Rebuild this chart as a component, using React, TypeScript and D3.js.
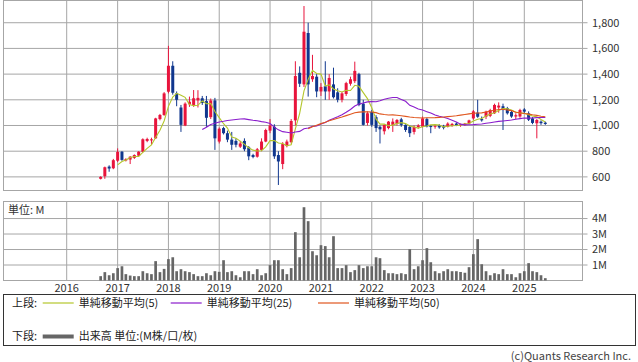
import React from "react";
import * as d3 from "d3";

// Monthly candles, first month = 2016-09
const startMonth = "2016-09-01";
const openP = [585,605,680,667,726,796,728,735,748,765,795,880,885,900,1050,1082,1263,1465,1250,1140,1000,1165,1160,1195,1212,1190,1065,1195,875,980,940,890,880,835,880,830,770,757,810,875,960,990,770,700,840,870,1040,1410,1320,1720,1360,1380,1265,1305,1265,1320,1258,1200,1245,1325,1345,1400,1170,1020,1105,1065,990,955,980,1005,1012,1048,1005,990,950,988,990,1050,996,990,1000,995,990,1000,1015,1005,1005,1015,1055,1100,1050,1068,1075,1095,1140,1150,1135,1105,1070,1070,1125,1095,1055,1017,1030,1022];
const highP = [605,680,690,740,822,800,745,762,775,800,900,905,905,1060,1090,1260,1620,1500,1265,1160,1180,1225,1276,1275,1230,1230,1210,1215,985,990,960,950,900,880,900,840,780,825,900,975,1050,1010,800,870,890,1050,1500,1460,1930,1800,1550,1400,1330,1500,1400,1450,1290,1260,1340,1380,1497,1410,1200,1110,1120,1080,1000,1010,1035,1055,1050,1060,1010,1000,1000,1010,1070,1060,1005,1005,1010,1005,1025,1020,1025,1015,1020,1045,1120,1200,1070,1115,1130,1170,1180,1170,1145,1115,1095,1130,1135,1110,1065,1050,1040,1030];
const lowP = [580,585,640,660,715,725,720,700,740,755,790,870,850,895,1040,1075,1250,1240,1150,950,995,1145,1145,1140,1160,990,1050,810,860,930,870,810,830,825,800,730,745,750,800,870,940,740,537,660,830,860,1000,1300,1300,1225,1340,1220,1230,1200,1200,1210,1180,1180,1230,1310,1330,1150,1000,1000,990,950,860,930,970,950,1000,990,950,910,930,975,985,985,940,975,975,970,985,990,995,990,998,1010,1045,1060,1030,1050,1065,1090,1100,965,1085,1060,1050,1060,1095,1035,1010,900,1005,1005];
const closeP = [600,675,665,730,795,732,738,757,770,796,893,895,892,1055,1082,1250,1465,1255,1200,1005,1170,1185,1212,1215,1175,1060,1195,900,975,940,890,850,850,860,815,760,755,815,875,965,1000,760,720,855,875,1035,1385,1325,1730,1320,1385,1265,1300,1265,1370,1220,1200,1250,1330,1360,1425,1160,1005,1095,1005,980,970,1005,1030,1030,1043,1005,965,940,990,1000,1055,992,988,998,985,983,1015,1012,1003,1010,1015,1040,1110,1068,1040,1108,1120,1160,1155,1120,1095,1070,1080,1120,1108,1045,1020,1043,1018,1012];
// Volume in millions
const volume = [0.28,0.54,0.34,0.47,0.8,0.92,0.41,0.32,0.28,0.28,0.6,0.47,0.41,1.25,0.54,0.75,1.38,1.5,0.6,0.73,0.6,0.54,0.41,0.28,0.28,0.47,0.34,0.6,0.56,1.31,0.54,0.6,0.34,0.21,0.6,0.6,0.41,0.73,0.34,0.47,0.99,1.31,1.31,0.73,0.41,0.8,3.12,1.5,4.73,3.83,1.89,1.63,2.28,2.22,1.5,2.86,0.8,0.8,0.99,0.54,0.67,0.99,0.8,0.92,0.92,1.5,1.44,0.67,0.47,0.47,0.41,0.47,0.41,2.02,0.73,0.92,1.31,2.09,1.18,0.6,0.47,0.6,0.73,0.6,0.6,0.55,0.5,0.86,1.7,2.67,1.05,0.6,0.34,0.47,0.41,0.73,0.41,0.41,0.21,0.47,0.6,1.12,0.6,0.54,0.34,0.15];

const priceTicks = [600, 800, 1000, 1200, 1400, 1600, 1800];
const volTicks = [1, 2, 3, 4];
const volTickLabels = ["1M", "2M", "3M", "4M"];
const yearTicks = [2016, 2017, 2018, 2019, 2020, 2021, 2022, 2023, 2024, 2025];
const maPeriods = [5, 25, 50];
const maColors = ["#b4c62c", "#8a1ccc", "#e0561e"];
const maLabels = ["単純移動平均(5)", "単純移動平均(25)", "単純移動平均(50)"];

const FONT = "'Noto Sans CJK JP', 'Noto Sans', sans-serif";
const UP = "#e8143c";
const DOWN = "#10378e";
const GRID = "#a6a6a6";

function sma(vals: number[], n: number): (number | null)[] {
  return vals.map((_, i) => {
    if (i < n - 1) return null;
    let s = 0;
    for (let k = i - n + 1; k <= i; k++) s += vals[k];
    return s / n;
  });
}

export default function App() {
  const start = new Date(startMonth + "T00:00:00");
  const dates = closeP.map((_, i) => d3.timeMonth.offset(start, i));

  const L = 3.5, R = 582.5;
  const x = d3.scaleTime()
    .domain([new Date(2016, 0, 1), new Date(2025, 0, 1)])
    .range([66.7, 524.3]);
  const yP = d3.scaleLinear().domain([494, 1973]).range([190.5, 0.5]);
  const yV = d3.scaleLinear().domain([0, 5.1]).range([280.5, 201.5]);

  const cw = 3;
  const vw = 2.7;

  const maLines = maPeriods.map((p) => {
    const vals = sma(closeP, p);
    const gen = d3.line<number | null>()
      .defined((d) => d !== null)
      .x((_, i) => x(dates[i]))
      .y((d) => yP(d as number));
    return gen(vals) || "";
  });

  return (
    <svg width={638} height={362} style={{ position: "absolute", left: 0, top: 0, background: "#fff" }} fontFamily={FONT}>
      {/* price panel grid */}
      {priceTicks.map((t) => (
        <g key={"p" + t}>
          <line x1={L} x2={R + 5} y1={yP(t)} y2={yP(t)} stroke={GRID} strokeWidth={1} />
          <text x={592} y={yP(t)} dy="0.35em" fontSize={11} fill="#333">{d3.format(",")(t)}</text>
        </g>
      ))}
      {yearTicks.map((yr) => (
        <line key={"vx" + yr} x1={x(new Date(yr, 0, 1))} x2={x(new Date(yr, 0, 1))} y1={0.5} y2={190.5} stroke={GRID} strokeWidth={1} />
      ))}
      <rect x={L} y={0.5} width={R - L} height={190} fill="none" stroke={GRID} strokeWidth={1} />

      {/* candles */}
      {closeP.map((c, i) => {
        const o = openP[i];
        const up = c >= o;
        const col = up ? UP : DOWN;
        const cx = x(dates[i]);
        const top = yP(Math.max(o, c));
        const bot = yP(Math.min(o, c));
        return (
          <g key={"c" + i}>
            <line x1={cx} x2={cx} y1={yP(highP[i])} y2={yP(lowP[i])} stroke={col} strokeWidth={1} />
            <rect x={cx - cw / 2} y={top} width={cw} height={Math.max(1, bot - top)} fill={col} />
          </g>
        );
      })}

      {/* moving averages */}
      {maLines.map((d, k) => (
        <path key={"ma" + k} d={d} fill="none" stroke={maColors[k]} strokeWidth={1.1} />
      ))}

      {/* volume panel */}
      {volTicks.map((t, k) => (
        <g key={"v" + t}>
          <line x1={L} x2={R + 5} y1={yV(t)} y2={yV(t)} stroke={GRID} strokeWidth={1} />
          <text x={592} y={yV(t)} dy="0.35em" fontSize={11} fill="#333">{volTickLabels[k]}</text>
        </g>
      ))}
      {yearTicks.map((yr) => (
        <g key={"vy" + yr}>
          <line x1={x(new Date(yr, 0, 1))} x2={x(new Date(yr, 0, 1))} y1={201.5} y2={280.5} stroke={GRID} strokeWidth={1} />
          <text x={x(new Date(yr, 0, 1))} y={288} dy="0.35em" textAnchor="middle" fontSize={11} fill="#333">{yr}</text>
        </g>
      ))}
      <rect x={L} y={201.5} width={R - L} height={79} fill="none" stroke={GRID} strokeWidth={1} />
      <text x={8} y={210} dy="0.35em" fontSize={11} fill="#333">単位: M</text>
      {volume.map((v, i) => (
        <rect key={"b" + i} x={x(dates[i]) - vw / 2} y={yV(v)} width={vw} height={yV(0) - yV(v)} fill="#666" />
      ))}

      {/* legend */}
      <rect x={3.5} y={294.5} width={632} height={51} fill="none" stroke="#333" strokeWidth={1} />
      <text x={12} y={303} dy="0.35em" fontSize={11} fill="#222">上段:</text>
      {[42.7, 170.7, 318].map((lx, k) => (
        <g key={"lg" + k}>
          <line x1={lx} x2={lx + 31} y1={303} y2={303} stroke={maColors[k]} strokeWidth={1.2} />
          <text x={lx + 36} y={303} dy="0.35em" fontSize={11} fill="#222">{maLabels[k]}</text>
        </g>
      ))}
      <text x={12} y={336.5} dy="0.35em" fontSize={11} fill="#222">下段:</text>
      <line x1={42.7} x2={73.7} y1={336.5} y2={336.5} stroke="#666" strokeWidth={4} />
      <text x={78.7} y={336.5} dy="0.35em" fontSize={11} fill="#222">出来高 単位:(M株/口/枚)</text>

      <text x={631} y={356} dy="0.35em" textAnchor="end" fontSize={11} fill="#444">(c)Quants Research Inc.</text>
    </svg>
  );
}
